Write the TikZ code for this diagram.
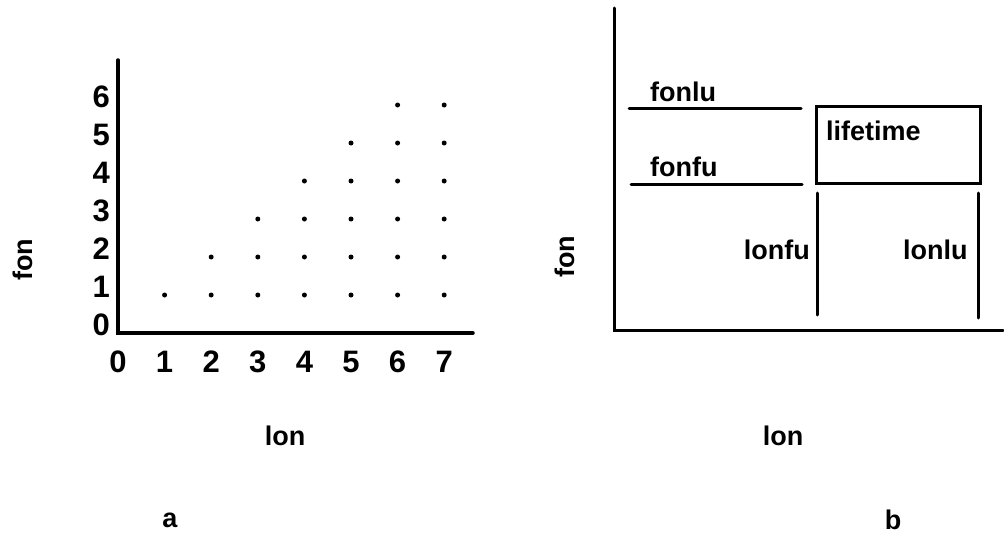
\documentclass[tikz,border=0pt]{standalone}
\usepackage{fontspec}
\setmainfont{Liberation Sans}
\usetikzlibrary{positioning}

\tikzset{
  lbl/.style={font=\bfseries\fontsize{27}{30}\selectfont, inner sep=0pt},
  num/.style={font=\bfseries\fontsize{31}{34}\selectfont, inner sep=0pt},
  axis/.style={line width=3.5pt, line cap=round},
  bar/.style={line width=3pt, line cap=round},
}

\begin{document}
\begin{tikzpicture}[x=1pt, y=-1pt]
  \useasboundingbox (0,0) rectangle (1004,535);

  % (a) lattice of allowed (lon, fon) pairs
  \coordinate (ao) at (118,333);
  \draw[axis] (118,60) -- (ao) -- (473,333);
  \foreach \i in {0,...,7}
    \node[num] (ax\i) at (118+46.6*\i, 362) {\i};
  \foreach \j in {0,...,6}
    \node[num, anchor=east] (ay\j) at (110, 325-38*\j) {\j};
  \foreach \i in {1,...,7} {
    \pgfmathtruncatemacro\jtop{min(\i,6)}
    \foreach \j in {1,...,\jtop}
      \fill (118+46.6*\i, 333-38*\j) circle (2.5);
  }
  \node[lbl, rotate=90] (afon) at (23,260) {fon};
  \node[lbl] (alon) at (285,436) {lon};
  \node[lbl] (acap) at (170,520) {a};

  % (b) regions bounded by fonfu/fonlu and lonfu/lonlu
  \coordinate (bo) at (614,330);
  \draw[bar] (614,8) -- (bo) -- (1003,330);
  \draw[bar] (629,108) -- (801,108);
  \draw[bar] (631,184) -- (802,184);
  \node[lbl, anchor=base west] (fonlu) at (650,101) {fonlu};
  \node[lbl, anchor=base west] (fonfu) at (650,176) {fonfu};
  \draw[bar] (816,106) rectangle (980,183);
  \node[lbl, anchor=base west] (life) at (826,140) {lifetime};
  \draw[bar] (817,193) -- (817,315);
  \draw[bar] (978,193) -- (978,318);
  \node[lbl, anchor=base east] (lonfu) at (810,259) {lonfu};
  \node[lbl, anchor=base west] (lonlu) at (903,259) {lonlu};
  \node[lbl, rotate=90] (bfon) at (565,257) {fon};
  \node[lbl] (blon) at (783,436) {lon};
  \node[lbl] (bcap) at (893,520) {b};

\end{tikzpicture}
\end{document}
